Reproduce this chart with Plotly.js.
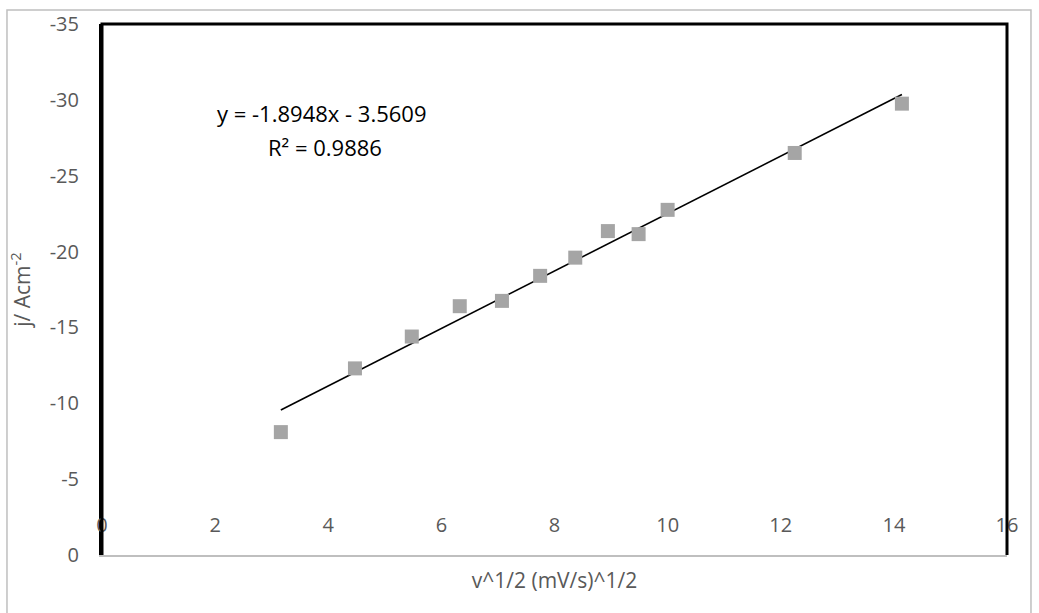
<!DOCTYPE html>
<html>
<head>
<meta charset="utf-8">
<script src="https://cdn.plot.ly/plotly-3.0.1.min.js"></script>
<style>
  html, body { margin: 0; padding: 0; background: #fff; }
  #chart { width: 1039px; height: 613px; }
</style>
</head>
<body>
<div id="chart"></div>
<script>
// Square root of scan rate, (mV/s)^1/2
const sqrtScanRate = [3.162, 4.472, 5.477, 6.325, 7.071, 7.746, 8.367, 8.944, 9.487, 10.0, 12.247, 14.142];
// Peak current density, A cm^-2
const currentDensity = [-8.1, -12.3, -14.4, -16.4, -16.75, -18.4, -19.6, -21.35, -21.15, -22.75, -26.5, -29.75];

// Linear fit as reported on the chart
const fitSlope = -1.8948;
const fitIntercept = -3.5609;
const fitR2 = 0.9886;

const xTickVals = [0, 2, 4, 6, 8, 10, 12, 14, 16];
const yTickVals = [0, -5, -10, -15, -20, -25, -30, -35];

const xMin = Math.min(...sqrtScanRate);
const xMax = Math.max(...sqrtScanRate);
const fitX = [xMin, xMax];
const fitY = fitX.map(v => fitSlope * v + fitIntercept);

const FAMILY = 'Open Sans, Liberation Sans, sans-serif';
const labelFont = { family: FAMILY, size: 20, color: '#595959' };
const titleFont = { family: FAMILY, size: 21, color: '#595959' };

const traces = [
  {
    x: fitX, y: fitY, type: 'scatter', mode: 'lines',
    line: { color: '#000000', width: 1.6 },
    hoverinfo: 'skip', showlegend: false
  },
  {
    x: sqrtScanRate, y: currentDensity, type: 'scatter', mode: 'markers',
    marker: { symbol: 'square', size: 14, color: '#A5A5A5' },
    showlegend: false
  }
];

const fmt = v => (v < 0 ? '- ' + Math.abs(v).toFixed(4) : '+ ' + v.toFixed(4));

const layout = {
  width: 1039, height: 613,
  margin: { l: 102, r: 32, t: 24, b: 58 },
  paper_bgcolor: '#ffffff', plot_bgcolor: '#ffffff',
  showlegend: false,
  font: labelFont,
  xaxis: {
    range: [0, 16], tickvals: xTickVals, ticktext: xTickVals.map(String),
    showgrid: false, zeroline: false,
    showline: true, linecolor: '#BFBFBF', linewidth: 2,
    ticks: '', ticklabelposition: 'inside', ticklabeloverflow: 'allow',
    ticklabelstandoff: 20,
    tickfont: labelFont,
    title: { text: 'v^1/2 (mV/s)^1/2', font: titleFont, standoff: 36 },
    automargin: false
  },
  yaxis: {
    range: [0, -35], tickvals: yTickVals, ticktext: yTickVals.map(String),
    showgrid: false, zeroline: false,
    showline: true, linecolor: '#000000', linewidth: 3,
    ticks: '', ticklabelstandoff: 16,
    tickfont: labelFont,
    title: { text: 'j/ Acm<sup>-2</sup>', font: titleFont, standoff: 14 },
    automargin: false
  },
  shapes: [
    // outer chart frame
    { type: 'rect', xref: 'paper', yref: 'paper', layer: 'below',
      x0: -0.1050, x1: 1.0265, y0: -0.2, y1: 1.0264,
      line: { color: '#BFBFBF', width: 1.5 }, fillcolor: 'rgba(0,0,0,0)' },
    // black border on left, top and right of the plot area
    { type: 'path', xref: 'paper', yref: 'paper', layer: 'above',
      path: 'M 0,0 L 0,1 L 1,1 L 1,0',
      line: { color: '#000000', width: 3 } }
  ],
  annotations: [
    { xref: 'paper', yref: 'paper', x: 0.243, y: 0.832, xanchor: 'center', yanchor: 'middle',
      text: 'y = ' + fitSlope.toFixed(4) + 'x ' + fmt(fitIntercept), showarrow: false,
      font: { family: FAMILY, size: 22, color: '#000000' } },
    { xref: 'paper', yref: 'paper', x: 0.246, y: 0.768, xanchor: 'center', yanchor: 'middle',
      text: 'R² = ' + fitR2.toFixed(4), showarrow: false,
      font: { family: FAMILY, size: 22, color: '#000000' } }
  ]
};

Plotly.newPlot('chart', traces, layout, { displayModeBar: false, staticPlot: true });
</script>
</body>
</html>
